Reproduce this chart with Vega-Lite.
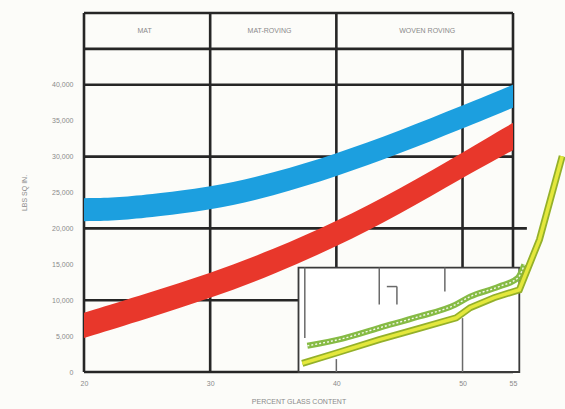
{
  "$schema": "https://vega.github.io/schema/vega-lite/v6.json",
  "autosize": "none",
  "width": 429,
  "height": 359,
  "padding": {"left": 84, "top": 13, "right": 52, "bottom": 37},
  "background": "#fcfcf9",
  "view": {"stroke": null},
  "config": {
    "font": "Liberation Sans",
    "axis": {"labelFont": "Liberation Sans", "titleFont": "Liberation Sans", "labelColor": "#8a8a8a", "titleColor": "#8a8a8a", "labelFontSize": 7, "titleFontSize": 7, "titleFontWeight": "normal", "grid": false, "domain": false, "ticks": false}
  },
  "datasets": {
    "grid": [
      {"x": 20, "x2": 54, "y": 0, "y2": 0},
      {"x": 20, "x2": 54, "y": 10000, "y2": 10000},
      {"x": 20, "x2": 55.1, "y": 20000, "y2": 20000},
      {"x": 20, "x2": 54, "y": 30000, "y2": 30000},
      {"x": 20, "x2": 54, "y": 40000, "y2": 40000},
      {"x": 20, "x2": 54, "y": 45000, "y2": 45000},
      {"x": 20, "x2": 54, "y": 50000, "y2": 50000},
      {"x": 20, "x2": 20, "y": 0, "y2": 50000},
      {"x": 30, "x2": 30, "y": 0, "y2": 50000},
      {"x": 40, "x2": 40, "y": 0, "y2": 50000},
      {"x": 50, "x2": 50, "y": 0, "y2": 45000},
      {"x": 54, "x2": 54, "y": 0, "y2": 50000}
    ],
    "header": [
      {"x": 24.8, "y": 47500, "label": "MAT"},
      {"x": 34.7, "y": 47500, "label": "MAT-ROVING"},
      {"x": 47.2, "y": 47500, "label": "WOVEN ROVING"}
    ],
    "bands": [
      {"series": "upper", "x": 20, "y": 21000, "y2": 24200},
      {"series": "upper", "x": 22.5, "y": 21100, "y2": 24300},
      {"series": "upper", "x": 25, "y": 21500, "y2": 24700},
      {"series": "upper", "x": 30, "y": 22500, "y2": 25700},
      {"series": "upper", "x": 35, "y": 24500, "y2": 27700},
      {"series": "upper", "x": 40, "y": 27200, "y2": 30400},
      {"series": "upper", "x": 45, "y": 30400, "y2": 33600},
      {"series": "upper", "x": 50, "y": 33900, "y2": 37100},
      {"series": "upper", "x": 54, "y": 36800, "y2": 40000},
      {"series": "lower", "x": 20, "y": 4750, "y2": 8250},
      {"series": "lower", "x": 25, "y": 7450, "y2": 10950},
      {"series": "lower", "x": 30, "y": 10250, "y2": 13750},
      {"series": "lower", "x": 35, "y": 13550, "y2": 17050},
      {"series": "lower", "x": 40, "y": 17450, "y2": 20950},
      {"series": "lower", "x": 45, "y": 21950, "y2": 25450},
      {"series": "lower", "x": 50, "y": 27050, "y2": 30550},
      {"series": "lower", "x": 54, "y": 30900, "y2": 34700}
    ],
    "inset": [
      {"x": 37.0, "x2": 54.5, "y": 0, "y2": 14550}
    ],
    "insetLines": [
      {"x": 37.5, "x2": 37.5, "y": 4750, "y2": 14550},
      {"x": 43.4, "x2": 43.4, "y": 9400, "y2": 14550},
      {"x": 44.0, "x2": 44.8, "y": 11900, "y2": 11900},
      {"x": 44.8, "x2": 44.8, "y": 9400, "y2": 11900},
      {"x": 48.6, "x2": 48.6, "y": 11200, "y2": 14550},
      {"x": 50, "x2": 50, "y": 0, "y2": 7500},
      {"x": 40, "x2": 40, "y": 0, "y2": 1800}
    ],
    "yellowLine": [
      {"x": 37.3, "y": 1200},
      {"x": 40.0, "y": 2650},
      {"x": 43.4, "y": 4500},
      {"x": 46.5, "y": 6050},
      {"x": 49.5, "y": 7550},
      {"x": 50.6, "y": 8950},
      {"x": 52.5, "y": 10350},
      {"x": 54.5, "y": 11450},
      {"x": 56.1, "y": 18450},
      {"x": 57.9, "y": 30050}
    ],
    "greenLine": [
      {"x": 37.7, "y": 3650},
      {"x": 40.5, "y": 4650},
      {"x": 43.4, "y": 6150},
      {"x": 46.5, "y": 7700},
      {"x": 49.4, "y": 9350},
      {"x": 50.6, "y": 10500},
      {"x": 52.9, "y": 11900},
      {"x": 54.4, "y": 13150},
      {"x": 54.9, "y": 14950}
    ]
  },
  "encoding": {
    "x": {
      "field": "x", "type": "quantitative",
      "scale": {"domain": [20, 54], "nice": false, "zero": false},
      "axis": {"values": [20, 30, 40, 50, 54], "labelExpr": "datum.value == 54 ? '55' : format(datum.value, 'd')", "labelPadding": 7, "title": "PERCENT GLASS CONTENT", "titlePadding": 11, "labelFlush": false}
    },
    "y": {
      "field": "y", "type": "quantitative",
      "scale": {"domain": [0, 50000], "nice": false},
      "axis": {"values": [0, 5000, 10000, 15000, 20000, 25000, 30000, 35000, 40000], "labelExpr": "format(datum.value, ',')", "labelPadding": 11, "title": "LBS SQ IN.", "titlePadding": 24, "titleAngle": 270}
    }
  },
  "layer": [
    {
      "data": {"name": "grid"},
      "mark": {"type": "rule", "color": "#262626", "strokeWidth": 2.6},
      "encoding": {"x2": {"field": "x2"}, "y2": {"field": "y2"}}
    },
    {
      "data": {"name": "header"},
      "mark": {"type": "text", "fontSize": 7, "color": "#8a8a8a", "font": "Liberation Sans"},
      "encoding": {"text": {"field": "label"}}
    },
    {
      "data": {"name": "bands"},
      "mark": {"type": "area", "interpolate": "basis", "opacity": 1},
      "encoding": {
        "y2": {"field": "y2"},
        "color": {"field": "series", "type": "nominal", "scale": {"domain": ["upper", "lower"], "range": ["#1c9fdf", "#e8372b"]}, "legend": null}
      }
    },
    {
      "data": {"name": "inset"},
      "mark": {"type": "rect", "fill": "#ffffff", "stroke": "#3a3a3a", "strokeWidth": 1.8},
      "encoding": {"x2": {"field": "x2"}, "y2": {"field": "y2"}}
    },
    {
      "data": {"name": "insetLines"},
      "mark": {"type": "rule", "color": "#6a6a6a", "strokeWidth": 1.5},
      "encoding": {"x2": {"field": "x2"}, "y2": {"field": "y2"}}
    },
    {
      "data": {"name": "greenLine"},
      "mark": {"type": "line", "color": "#86bb45", "strokeWidth": 6, "interpolate": "monotone"},
      "encoding": {}
    },
    {
      "data": {"name": "greenLine"},
      "mark": {"type": "line", "color": "#f4f8ea", "strokeWidth": 1.4, "strokeDash": [2, 2], "interpolate": "monotone"},
      "encoding": {}
    },
    {
      "data": {"name": "yellowLine"},
      "mark": {"type": "line", "color": "#94b02a", "strokeWidth": 7},
      "encoding": {}
    },
    {
      "data": {"name": "yellowLine"},
      "mark": {"type": "line", "color": "#e4e83c", "strokeWidth": 3.5},
      "encoding": {}
    }
  ]
}
